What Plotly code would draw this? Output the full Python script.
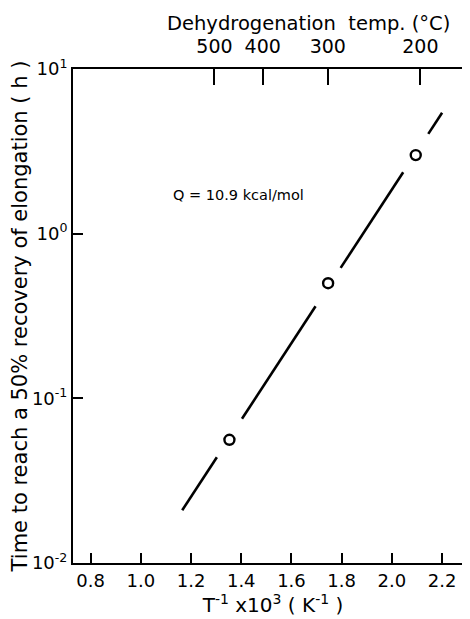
import numpy as np
import plotly.graph_objects as go

# ---- data ----
inv_T = [1.353, 1.746, 2.095]          # T^-1 x 10^3 (K^-1)
time_h = [0.056, 0.5, 3.0]             # time to reach 50% recovery (h)
fit_x_range = [1.165, 2.20]            # extent of the drawn fit line
gap = 0.05                             # line broken around each marker
temps_C = [500, 400, 300, 200]         # top axis tick labels
x_ticks = [0.8, 1.0, 1.2, 1.4, 1.6, 1.8, 2.0, 2.2]
y_ticks = [10, 1, 0.1, 0.01]
y_ticktext = ["10<sup>1</sup>", "10<sup>0</sup>", "10<sup>-1</sup>", "10<sup>-2</sup>"]
annotation_text = "Q = 10.9 kcal/mol"
top_title = "Dehydrogenation  temp. (°C)"

# ---- fit line (log-linear) ----
coef = np.polyfit(inv_T, np.log10(time_h), 1)
xs = [fit_x_range[0]]
for p in inv_T:
    xs += [p - gap, None, p + gap]
xs.append(fit_x_range[1])
line_x = xs
line_y = [None if v is None else 10 ** np.polyval(coef, v) for v in xs]

top_tickvals = [1000.0 / (t + 273.15) for t in temps_C]

FONT = "DejaVu Sans"
xrange_ = [0.73, 2.323]

fig = go.Figure()
fig.add_trace(go.Scatter(x=line_x, y=line_y, mode="lines", connectgaps=False,
                         line=dict(color="black", width=2.6), showlegend=False,
                         hoverinfo="skip"))
fig.add_trace(go.Scatter(x=inv_T, y=time_h, mode="markers", showlegend=False,
                         marker=dict(symbol="circle-open", size=10, color="black",
                                     line=dict(width=2.4, color="black"))))
# invisible trace to carry the top axis
fig.add_trace(go.Scatter(x=top_tickvals, y=[1] * len(top_tickvals), xaxis="x2",
                         mode="markers", marker=dict(opacity=0), showlegend=False,
                         hoverinfo="skip"))

fig.update_layout(
    width=470, height=619,
    margin=dict(l=65, r=3, t=61, b=64),
    paper_bgcolor="white", plot_bgcolor="white",
    font=dict(family=FONT, color="black", size=17),
    xaxis=dict(range=xrange_, tickvals=x_ticks,
               ticktext=[f"{v:.1f}" for v in x_ticks],
               ticks="inside", ticklen=10, tickwidth=1.5, tickcolor="black",
               showline=True, linecolor="black", linewidth=2, mirror=False,
               showgrid=False, zeroline=False,
               tickfont=dict(size=18),
               title=dict(text="T<sup>-1</sup> x10<sup>3</sup> ( K<sup>-1</sup> )",
                          font=dict(size=20), standoff=1)),
    xaxis2=dict(range=xrange_, overlaying="x", side="top", anchor="y",
                tickvals=top_tickvals, ticktext=[str(t) for t in temps_C],
                ticks="inside", ticklen=16, tickwidth=1.5, tickcolor="black",
                showline=True, linecolor="black", linewidth=2,
                ticklabelstandoff=6,
                showgrid=False, zeroline=False, tickfont=dict(size=19)),
    yaxis=dict(type="log", range=[-2, 1], tickvals=y_ticks, ticktext=y_ticktext,
               ticks="inside", ticklen=10, tickwidth=1.5, tickcolor="black",
               showline=True, linecolor="black", linewidth=2, mirror=True,
               showgrid=False, zeroline=False, tickfont=dict(size=18),
               title=dict(text="Time to reach a 50% recovery of elongation ( h )",
                          font=dict(size=21), standoff=0)),
    annotations=[
        dict(text=annotation_text, x=1.12, y=0.233, xref="x", yref="y",
             xanchor="left", yanchor="middle", showarrow=False,
             font=dict(size=14.5, family=FONT)),
        dict(text=top_title, x=0.588, y=1.0, xref="paper", yref="paper",
             xanchor="center", yanchor="bottom", yshift=32, showarrow=False,
             font=dict(size=19.5, family=FONT)),
    ],
)

fig.write_html("out.html")
